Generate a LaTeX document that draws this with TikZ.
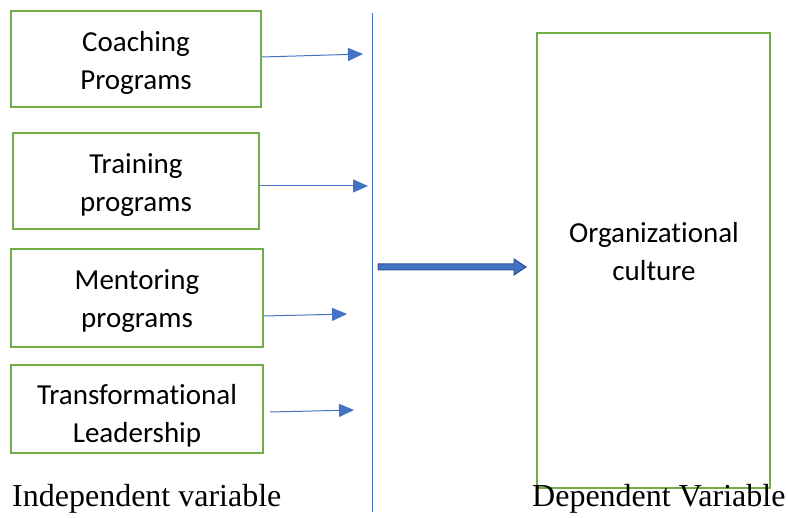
\documentclass[tikz,border=0pt]{standalone}
\usepackage{fontspec}
\setmainfont{Liberation Serif}
\newfontfamily\boxfont[Ligatures=NoCommon]{Carlito}
\usetikzlibrary{arrows.meta}
\definecolor{bxgreen}{HTML}{70AD47}
\definecolor{arblue}{HTML}{4472C4}
\definecolor{arblued}{HTML}{2F528F}
\begin{document}
\begin{tikzpicture}[x=1pt,y=-1pt,
  varbox/.style={draw=bxgreen,line width=2pt,inner sep=0pt},
  boxtext/.style={align=center,inner sep=0pt,font=\boxfont\fontsize{29}{38.5}\selectfont},
  thinarrow/.style={draw=arblue,line width=1pt,-{Triangle[length=15pt,width=13pt]}},
  caption/.style={font=\fontsize{32}{36}\selectfont,inner sep=0pt,anchor=base west}]
\useasboundingbox (0,0) rectangle (788,518);
\node[varbox,minimum width=250pt,minimum height=96pt] (b1) at (136,59) {};
\node[varbox,minimum width=246pt,minimum height=96pt] (b2) at (136,181) {};
\node[varbox,minimum width=252pt,minimum height=98pt] (b3) at (137,298) {};
\node[varbox,minimum width=252pt,minimum height=88pt] (b4) at (137,409) {};
\node[varbox,minimum width=233pt,minimum height=455pt] (dv) at (653.5,260.5) {};
\node[boxtext] (b1t) at (136,63) {Coaching\\Programs};
\node[boxtext] (b2t) at (136,185) {Training\\programs};
\node[boxtext] (b3t) at (137,301) {Mentoring\\programs};
\node[boxtext] (b4t) at (137,416) {Transformational\\Leadership};
\node[boxtext] (dvt) at (654,251.5) {Organizational\\culture};
\coordinate (vtop) at (372,13);
\coordinate (vbot) at (372,512);
\draw[arblue,line width=1pt] (vtop) -- (vbot);
\coordinate (e1) at (363,54);
\coordinate (e2) at (368,186);
\coordinate (e3) at (347,314);
\coordinate (e4) at (354,410);
\draw[thinarrow] (b1.east) ++(0,-2) -- (e1);
\draw[thinarrow] (b2.east) ++(0,5) -- (e2);
\draw[thinarrow] (b3.east) ++(0,18) -- (e3);
\draw[thinarrow] (b4.east) ++(6,3) -- (e4);
\coordinate (bs) at (378,267);
\coordinate (be) at (526,267);
\draw[arblued,fill=arblue,line width=1pt,line join=miter]
  (bs) ++(0,-3) -- ++(136,0) -- ++(0,-5) -- (be) -- ++(-12,8) -- ++(0,-5) -- ++(-136,0) -- cycle;
\node[caption] (ilab) at (12,507) {Independent variable};
\node[caption] (dlab) at (532,507) {Dependent Variable};
\end{tikzpicture}
\end{document}
